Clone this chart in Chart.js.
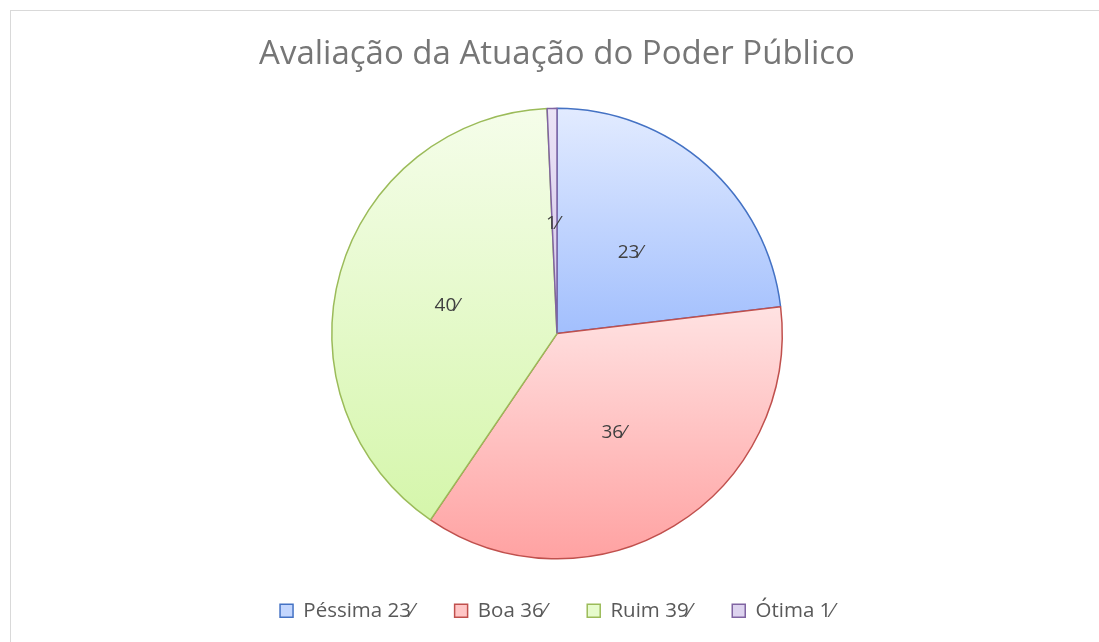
<!DOCTYPE html>
<html>
<head>
<meta charset="utf-8">
<script src="https://cdn.jsdelivr.net/npm/chart.js@4/dist/chart.umd.min.js"></script>
<style>
  html, body { margin: 0; padding: 0; background: #fff; overflow: hidden; }
  #frame { position: absolute; left: 10px; top: 10px; width: 1100px; height: 650px; border: 1px solid #d9d9d9; box-sizing: border-box; }
  #wrap { position: absolute; left: 0; top: 0; width: 1099px; height: 642px; }
</style>
</head>
<body>
<div id="frame"></div>
<div id="wrap"><canvas id="pie"></canvas></div>
<script>
// Chart data
const categories = ['Péssima 23\u2044', 'Boa 36\u2044', 'Ruim 39\u2044', 'Ótima 1\u2044'];
const shares = [23.1, 36.4, 39.8, 0.7];

// Excel-like colours: light top, darker bottom, solid outline
const topColors = ['#e2ebff', '#ffe2e2', '#f5fdea', '#ebe3f6'];
const bottomColors = ['#a2bffd', '#ffa2a2', '#d5f6ab', '#d3c6e9'];
const borderColors = ['#4472c4', '#c0504d', '#9bbb59', '#8064a2'];
const legendFill = ['#c3d6fe', '#ffc6c6', '#e6fbcc', '#ddd3ef'];

const FONT = "'Open Sans', 'Liberation Sans', sans-serif";

// Vertical gradient per slice, from its own top to its own bottom
const sliceGradient = {
  id: 'sliceGradient',
  beforeDatasetsDraw(chart) {
    const ctx = chart.ctx;
    const meta = chart.getDatasetMeta(0);
    meta.data.forEach((arc, i) => {
      const p = arc.getProps(['x', 'y', 'startAngle', 'endAngle', 'outerRadius'], true);
      const ys = [p.y, p.y + p.outerRadius * Math.sin(p.startAngle), p.y + p.outerRadius * Math.sin(p.endAngle)];
      const inRange = a => {
        for (let k = -2; k <= 2; k++) {
          const t = a + k * 2 * Math.PI;
          if (t >= p.startAngle && t <= p.endAngle) return true;
        }
        return false;
      };
      let minY = Math.min(...ys), maxY = Math.max(...ys);
      if (inRange(-Math.PI / 2)) minY = p.y - p.outerRadius;
      if (inRange(Math.PI / 2)) maxY = p.y + p.outerRadius;
      const g = ctx.createLinearGradient(0, minY, 0, maxY);
      g.addColorStop(0, topColors[i]);
      g.addColorStop(1, bottomColors[i]);
      arc.options.backgroundColor = g;
    });
  }
};

// Percent labels in the middle of each slice
const sliceLabels = {
  id: 'sliceLabels',
  afterDatasetsDraw(chart) {
    const ctx = chart.ctx;
    const meta = chart.getDatasetMeta(0);
    ctx.save();
    ctx.font = "19px " + FONT;
    ctx.fillStyle = '#404040';
    ctx.textAlign = 'center';
    ctx.textBaseline = 'middle';
    meta.data.forEach((arc, i) => {
      const pos = arc.tooltipPosition();
      ctx.fillText(Math.round(shares[i]) + '\u2044', pos.x - 2, pos.y + 3);
    });
    ctx.restore();
  }
};

new Chart(document.getElementById('pie'), {
  type: 'pie',
  data: {
    labels: categories,
    datasets: [{
      data: shares,
      backgroundColor: legendFill,
      borderColor: borderColors,
      borderWidth: 1.5
    }]
  },
  options: {
    responsive: true,
    maintainAspectRatio: false,
    animation: false,
    layout: { padding: { left: 15, right: 0, top: 0, bottom: 11 } },
    plugins: {
      title: {
        display: true,
        text: 'Avaliação da Atuação do Poder Público',
        color: '#767676',
        font: { family: FONT, size: 33, weight: 'normal' },
        padding: { top: 35, bottom: 33 }
      },
      legend: {
        position: 'bottom',
        labels: {
          color: '#595959',
          font: { family: FONT, size: 20.5 },
          boxWidth: 13,
          boxHeight: 13,
          padding: 41,
          generateLabels(chart) {
            return categories.map((c, i) => ({
              text: c,
              fillStyle: legendFill[i],
              strokeStyle: borderColors[i],
              lineWidth: 1.5,
              fontColor: '#595959',
              index: i
            }));
          }
        }
      },
      tooltip: { enabled: false }
    }
  },
  plugins: [sliceGradient, sliceLabels]
});
</script>
</body>
</html>
